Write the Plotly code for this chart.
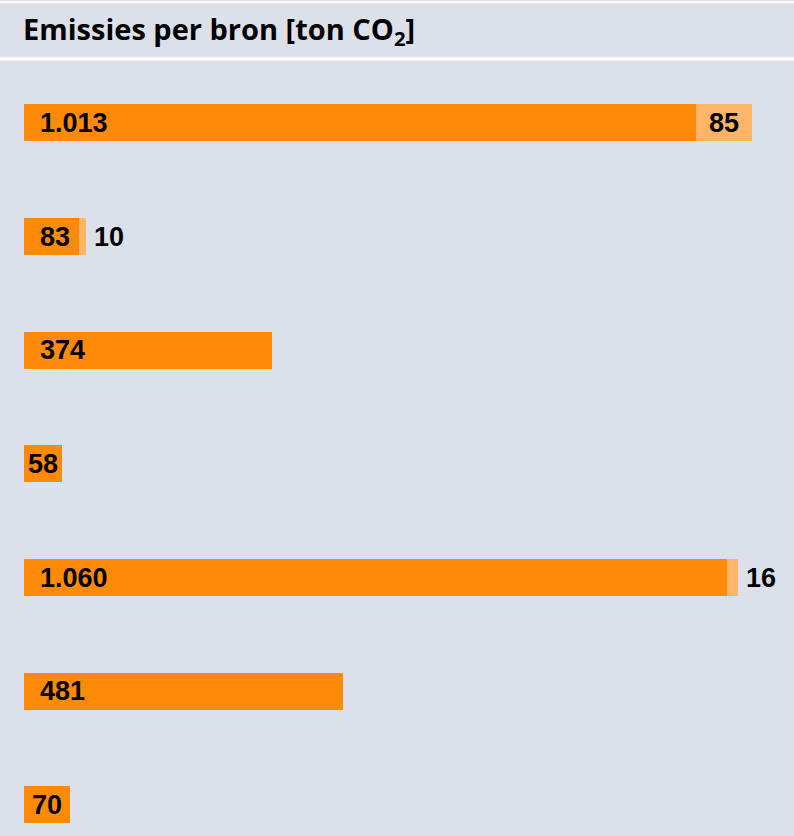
import plotly.graph_objects as go

categories = ["Bron 1", "Bron 2", "Bron 3", "Bron 4", "Bron 5", "Bron 6", "Bron 7"]
main_values = [1013, 83, 374, 58, 1060, 481, 70]
extra_values = [85, 10, 0, 0, 16, 0, 0]
main_labels = ["1.013", "83", "374", "58", "1.060", "481", "70"]
extra_labels = ["85", "10", "", "", "16", "", ""]
extra_inside = [True, False, False, False, False, False, False]

DARK = "#FF8A07"
LIGHT = "#FFB567"
BG = "#DCE0EA"
LABEL_FONT = dict(family="Liberation Sans, Arial, sans-serif", size=27, color="#000000")

fig = go.Figure()
fig.add_trace(go.Bar(y=categories, x=main_values, orientation="h",
                     marker=dict(color=DARK, line=dict(width=0)), hoverinfo="skip"))
fig.add_trace(go.Bar(y=categories, x=extra_values, orientation="h",
                     marker=dict(color=LIGHT, line=dict(width=0)), hoverinfo="skip"))

annotations = []
for cat, v, lab in zip(categories, main_values, main_labels):
    if v < 75:
        annotations.append(dict(x=v / 2, y=cat, text="<b>%s</b>" % lab, showarrow=False,
                                xanchor="center", yanchor="middle", font=LABEL_FONT))
    else:
        annotations.append(dict(x=0, y=cat, text="<b>%s</b>" % lab, showarrow=False,
                                xanchor="left", yanchor="middle", xshift=14, font=LABEL_FONT))
for cat, v, e, lab, ins in zip(categories, main_values, extra_values, extra_labels, extra_inside):
    if not lab:
        continue
    if ins:
        annotations.append(dict(x=v + e / 2, y=cat, text="<b>%s</b>" % lab, showarrow=False,
                                xanchor="center", yanchor="middle", font=LABEL_FONT))
    else:
        annotations.append(dict(x=v + e, y=cat, text="<b>%s</b>" % lab, showarrow=False,
                                xanchor="left", yanchor="middle", xshift=6, font=LABEL_FONT))

annotations.append(dict(xref="paper", yref="paper", x=0, y=1.0374, xshift=-3,
                        text="<b>Emissies per bron [ton CO<sub>2</sub>]</b>", showarrow=False,
                        xanchor="left", yanchor="middle",
                        font=dict(family="Open Sans, sans-serif", size=29, color="#000000")))

shapes = [
    dict(type="line", xref="paper", yref="paper", x0=-0.05, x1=1.05, y0=1.0013, y1=1.0013,
         line=dict(color="#FFFFFF", width=3)),
    dict(type="line", xref="paper", yref="paper", x0=-0.05, x1=1.05, y0=1.0745, y1=1.0745,
         line=dict(color="#FFFFFF", width=2)),
]

fig.update_layout(
    width=794, height=836,
    margin=dict(l=24, r=24, t=60, b=0),
    paper_bgcolor=BG, plot_bgcolor=BG,
    barmode="stack", bargap=0.6745,
    showlegend=False,
    xaxis=dict(range=[0, 1124.9], visible=False, fixedrange=True),
    yaxis=dict(range=[6.273, -0.554], visible=False, fixedrange=True),
    annotations=annotations, shapes=shapes,
)

fig.write_html("out.html", config={"displayModeBar": False},
               post_script="document.body.style.margin='0';document.body.style.overflow='hidden';")
